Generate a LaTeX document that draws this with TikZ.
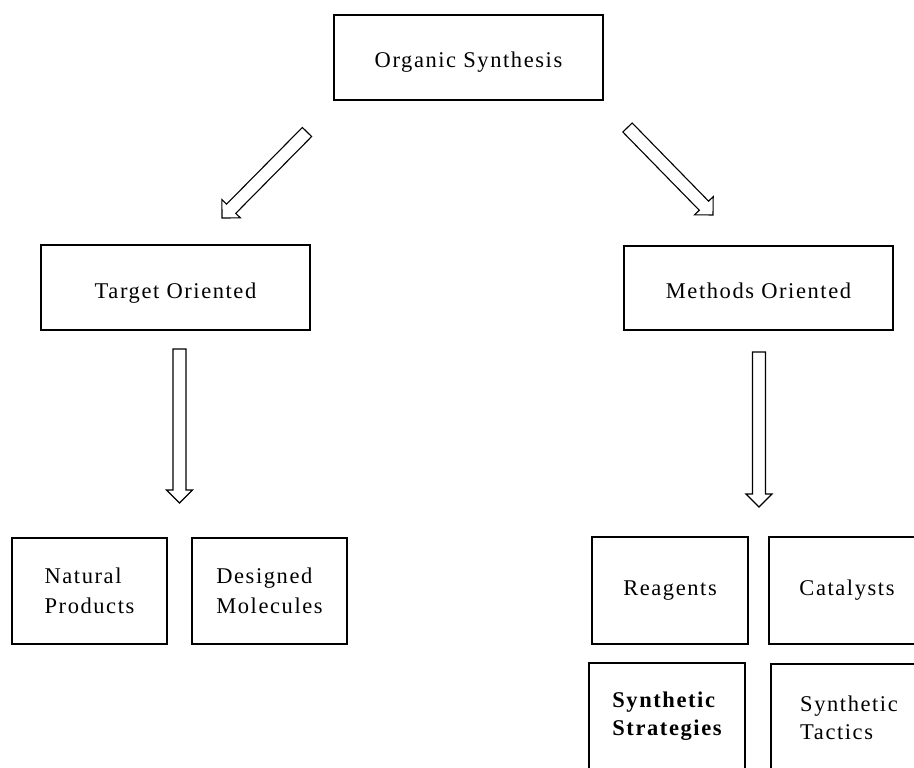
\documentclass[tikz,border=0pt]{standalone}
\usepackage{fontspec}
\setmainfont{Liberation Serif}[LetterSpace=7]
\usetikzlibrary{calc}
\tikzset{
  box/.style={draw, line width=1.2pt, inner sep=0pt, align=left,
    font=\fontsize{22.5}{30}\selectfont},
  topbox/.style={box, minimum width=269pt, text height=21pt, text depth=0pt},
  blk/.style={draw, line width=1.1pt, line join=miter, fill=white},
}
\newcommand\blockarrow[2]{%
  \coordinate (#1-h) at ($(#2)!13pt!(#1)$);
  \draw[blk] ($(#1)!6.5pt!90:(#2)$) -- ($(#1-h)!6.5pt!90:(#2)$)
    -- ($(#1-h)!13pt!90:(#2)$) -- (#2) -- ($(#1-h)!13pt!-90:(#2)$)
    -- ($(#1-h)!6.5pt!-90:(#2)$) -- ($(#1)!6.5pt!-90:(#2)$) -- cycle;}
\begin{document}
\begin{tikzpicture}[x=1pt,y=-1pt]
\useasboundingbox (0,0) rectangle (914,768);
\clip (0,0) rectangle (914,768);
\fill[white] (0,0) rectangle (914,768);

\node[topbox, minimum height=85pt] (org) at (468.5,57.5) {Organic Synthesis};
\node[topbox, minimum height=85pt] (tgt) at (175.5,287.5) {Target Oriented};
\node[topbox, minimum height=84pt] (mth) at (758.5,288) {Methods Oriented};

\node[box, minimum width=155pt, minimum height=106pt] (nat) at (89.5,591) {Natural\\Products};
\node[box, minimum width=155pt, minimum height=106pt] (des) at (269.5,591) {Designed\\Molecules};
\node[box, minimum width=156pt, minimum height=107pt] (rea) at (670,590.5) {Reagents};
\node[box, minimum width=156pt, minimum height=107pt] (cat) at (847,590.5) {Catalysts};
\node[box, minimum width=156pt, minimum height=107pt, font=\fontsize{22.5}{28}\selectfont\bfseries] (str) at (667,716.5) {Synthetic\\Strategies};
\node[box, minimum width=156pt, minimum height=107pt, font=\fontsize{22.5}{28}\selectfont] (tac) at (849,717.5) {Synthetic\\Tactics};

\coordinate (a1s) at (307,132);   \coordinate (a1e) at (222,218);
\coordinate (a2s) at (627.5,127.5); \coordinate (a2e) at (713,215);
\coordinate (a3s) at (179.5,349); \coordinate (a3e) at (179.5,503);
\coordinate (a4s) at (759,352);   \coordinate (a4e) at (759,507);
\blockarrow{a1s}{a1e}
\blockarrow{a2s}{a2e}
\blockarrow{a3s}{a3e}
\blockarrow{a4s}{a4e}
\end{tikzpicture}
\end{document}
